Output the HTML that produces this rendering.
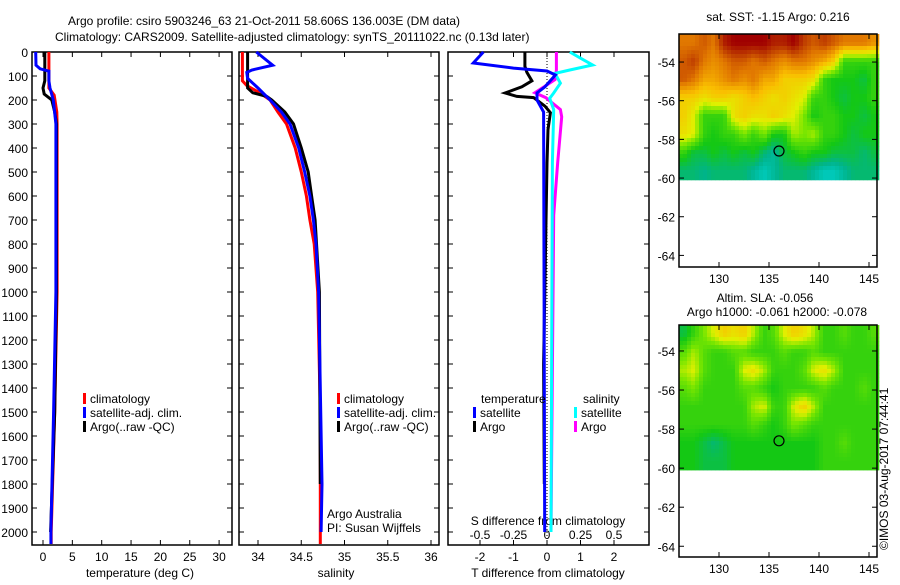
<!DOCTYPE html>
<html><head><meta charset="utf-8"><style>
html,body{margin:0;padding:0;background:#fff}
svg text{font-family:"Liberation Sans",sans-serif;font-size:12px;fill:#000}
</style></head><body>
<svg id="c" width="900" height="580" viewBox="0 0 900 580">
<text x="68" y="25">Argo profile: csiro 5903246_63 21-Oct-2011 58.606S 136.003E (DM data)</text>
<text x="55" y="41">Climatology: CARS2009. Satellite-adjusted climatology: synTS_20111022.nc (0.13d later)</text>
<text x="778" y="21" text-anchor="middle">sat. SST: -1.15 Argo: 0.216</text>
<text x="765" y="302" text-anchor="middle">Altim. SLA: -0.056</text>
<text x="777" y="316" text-anchor="middle">Argo h1000: -0.061 h2000: -0.078</text>
<text transform="translate(888,550) rotate(-90)">©IMOS 03-Aug-2017 07:44:41</text>
<g id="g"></g>
</svg>
<script>
// ---- data ----
const depthTicks=[0,100,200,300,400,500,600,700,800,900,1000,1100,1200,1300,1400,1500,1600,1700,1800,1900,2000];
const tempTicks=[0,5,10,15,20,25,30];
const salTicks=[34,34.5,35,35.5,36];
const tdiffTicks=[-2,-1,0,1,2];
const sdiffTicks=[-0.5,-0.25,0,0.25,0.5];
const sdiffLabels=["-0.5","-0.25","0","0.25","0.5"];
const latTicks=[-54,-56,-58,-60,-62,-64];
const lonTicks=[130,135,140,145];

const tClimD=[0,150,180,250,300,1000,1500,2000,2050];
const tClimV=[1.0,1.0,1.9,2.35,2.4,2.4,2.0,1.4,1.4];
const tSatD=[0,55,70,80,120,150,200,300,1000,1500,2000,2050];
const tSatV=[-1.25,-1.2,-0.5,1.0,1.0,1.2,1.75,2.2,2.2,1.8,1.35,1.35];
const tArgoD=[0,120,150,175,200,250,300,1000,1500,2000];
const tArgoV=[0.3,0.3,0.0,0.2,1.5,2.0,2.3,2.3,2.0,1.3];

const sClimD=[0,120,140,170,200,250,300,400,500,600,700,800,1000,1500,2050];
const sClimV=[33.82,33.82,33.87,34.02,34.14,34.23,34.33,34.43,34.5,34.56,34.6,34.65,34.69,34.72,34.72];
const sSatD=[0,55,75,85,110,150,200,250,300,400,500,600,700,800,1000,1800,2000];
const sSatV=[33.98,34.17,33.93,33.87,33.88,34.0,34.14,34.27,34.37,34.47,34.54,34.6,34.64,34.67,34.7,34.74,34.73];
const sArgoD=[0,150,170,185,200,250,300,400,500,600,700,1000,1800];
const sArgoV=[33.88,33.88,33.94,34.1,34.16,34.31,34.41,34.5,34.58,34.62,34.66,34.71,34.72];

const dtSatD=[0,46,67,79,96,145,171,200,250,2000];
const dtSatV=[-1.9,-2.2,-1.0,0,0.25,-0.06,-0.3,-0.3,-0.1,-0.07];
const dtArgoD=[0,60,85,120,145,171,185,190,226,253,323,462,1300,1800];
const dtArgoV=[-0.66,-0.66,-0.6,-0.45,-0.75,-1.25,-0.9,-0.4,-0.06,0.1,0.03,0,-0.1,-0.08];
const dsSatD=[0,32,54,75,89,130,171,193,240,460,2000];
const dsSatV=[0.17,0.27,0.34,0.17,0.06,0.1,0.05,0.02,0.05,0.04,0.03];
const dsArgoD=[0,75,115,170,190,240,270,460,680,2000];
const dsArgoV=[0.07,0.07,0.06,-0.09,-0.01,0.1,0.11,0.08,0.05,0.03];

const mapLons=[126,127,128,129,130,131,132,133,134,135,136,137,138,139,140,141,142,143,144,145];
const sstGrid=[
[0.8,0.8,0.85,0.8,0.95,1,1,1,1,0.95,0.95,1,0.9,0.85,0.9,0.85,0.8,0.8,0.8,0.75],
[0.85,0.9,0.8,0.75,0.8,0.85,0.85,0.8,0.85,0.8,0.75,0.8,0.8,0.75,0.7,0.6,0.3,0.3,0.3,0.3],
[0.85,0.8,0.7,0.7,0.75,0.8,0.75,0.8,0.7,0.7,0.6,0.6,0.6,0.55,0.3,0.25,0.25,0.25,0.2,0.3],
[0.6,0.6,0.55,0.6,0.6,0.55,0.6,0.65,0.6,0.55,0.6,0.55,0.5,0.3,0.3,0.25,0.2,0.25,0.25,0.3],
[0.6,0.5,0.3,0.3,0.3,0.55,0.6,0.55,0.55,0.6,0.55,0.5,0.4,0.25,0.3,0.3,0.25,0.25,0.2,0.25],
[0.55,0.5,0.3,0.25,0.3,0.3,0.4,0.3,0.4,0.25,0.25,0.45,0.4,0.45,0.3,0.3,0.25,0.2,0.25,0.25],
[0.3,0.2,0.2,0.25,0.2,0.25,0.2,0.25,0.15,0.1,0.2,0.25,0.3,0.25,0.25,0.2,0.2,0.2,0.15,0.2],
[0.15,0.15,0.12,0.15,0.15,0.15,0.15,0.1,0.05,0.1,0.15,0.15,0.15,0.1,0.05,0.05,0.1,0.15,0.15,0.15]];
const slaGrid=[
[0.2,0.3,0.4,0.5,0.6,0.55,0.6,0.45,0.3,0.35,0.5,0.6,0.55,0.45,0.3,0.3,0.35,0.3,0.3,0.35],
[0.35,0.45,0.35,0.3,0.3,0.35,0.35,0.3,0.3,0.3,0.35,0.3,0.3,0.35,0.3,0.3,0.3,0.3,0.3,0.3],
[0.45,0.5,0.35,0.3,0.3,0.3,0.5,0.55,0.45,0.3,0.3,0.3,0.35,0.5,0.55,0.45,0.3,0.3,0.3,0.3],
[0.35,0.4,0.3,0.3,0.3,0.3,0.35,0.35,0.3,0.25,0.3,0.3,0.3,0.3,0.35,0.3,0.3,0.3,0.35,0.3],
[0.3,0.3,0.3,0.3,0.3,0.3,0.3,0.45,0.5,0.3,0.3,0.5,0.6,0.45,0.3,0.3,0.3,0.3,0.3,0.3],
[0.3,0.3,0.3,0.3,0.3,0.3,0.3,0.35,0.3,0.25,0.3,0.4,0.35,0.3,0.3,0.3,0.3,0.3,0.3,0.3],
[0.25,0.25,0.2,0.15,0.2,0.25,0.25,0.25,0.25,0.25,0.25,0.25,0.25,0.25,0.3,0.3,0.35,0.3,0.3,0.3],
[0.25,0.25,0.2,0.2,0.2,0.25,0.25,0.25,0.25,0.25,0.25,0.25,0.25,0.25,0.3,0.3,0.3,0.3,0.3,0.3]];
const argoLon=136.0, argoLat=-58.6;

// ---- helpers ----
const NS="http://www.w3.org/2000/svg";
const G=document.getElementById('g');
function el(tag,at,parent){const e=document.createElementNS(NS,tag);for(const k in at)e.setAttribute(k,at[k]);(parent||G).appendChild(e);return e;}
function txt(x,y,s,anchor,name){const t=el('text',{x:x,y:y,'text-anchor':anchor||'start'});t.textContent=s;


return t;}
const yD=d=>52+d*0.24;
const xT=v=>43+v*5.87;
const xS=v=>258+(v-34)*86.5;
const xDT=v=>547+v*33.5;
const xDS=v=>547+v*134;

function panel(x0,x1,name){
 const r=el('rect',{x:x0,y:52,width:x1-x0,height:493,fill:'none',stroke:'#000','stroke-width':1.5});
 
 
 depthTicks.forEach(d=>{el('line',{x1:x0,x2:x0+5,y1:yD(d),y2:yD(d),stroke:'#000'});el('line',{x1:x1-5,x2:x1,y1:yD(d),y2:yD(d),stroke:'#000'});});
}
function xticks(vals,fx,labels,name){
 vals.forEach((v,i)=>{const x=fx(v);el('line',{x1:x,x2:x,y1:545,y2:540,stroke:'#000'});el('line',{x1:x,x2:x,y1:52,y2:57,stroke:'#000'});
 txt(x,561,labels?labels[i]:String(v),'middle',name);});
}
function line(D,V,fx,color,name){
 const pts=D.map((d,i)=>fx(V[i]).toFixed(1)+','+yD(d).toFixed(1)).join(' ');
 const p=el('polyline',{points:pts,fill:'none',stroke:color,'stroke-width':3,'stroke-linejoin':'miter'});
 
 
}
function legend(x,y,color,label,name){
 el('rect',{x:x,y:y-10,width:3,height:11,fill:color});
 txt(x+7,y,label,'start',name);
}

// panel 1
panel(32,232,'temperature-panel');
depthTicks.forEach(d=>txt(28,yD(d)+5,String(d),'end','depth-tick-label'));
xticks(tempTicks,xT,null,'temperature-tick-label');
txt(140,577,'temperature (deg C)','middle','temperature-axis-title');
line(tClimD,tClimV,xT,'#f00','temp-climatology-line');
line(tArgoD,tArgoV,xT,'#000','temp-argo-line');
line(tSatD,tSatV,xT,'#00f','temp-satellite-line');
legend(83,403,'#f00','climatology','legend-climatology');
legend(83,417,'#00f','satellite-adj. clim.','legend-satellite');
legend(83,431,'#000','Argo(..raw -QC)','legend-argo');

// panel 2
panel(239,439,'salinity-panel');
xticks(salTicks,xS,null,'salinity-tick-label');
txt(336,577,'salinity','middle','salinity-axis-title');
line(sClimD,sClimV,xS,'#f00','sal-climatology-line');
line(sArgoD,sArgoV,xS,'#000','sal-argo-line');
line(sSatD,sSatV,xS,'#00f','sal-satellite-line');
legend(337,403,'#f00','climatology','legend-climatology');
legend(337,417,'#00f','satellite-adj. clim.','legend-satellite');
legend(337,431,'#000','Argo(..raw -QC)','legend-argo');
txt(327,518,'Argo Australia','start','institution-label');
txt(327,532,'PI: Susan Wijffels','start','pi-label');

// panel 3
panel(448,649,'difference-panel');
el('line',{x1:547,x2:547,y1:52,y2:545,stroke:'#000','stroke-dasharray':'1,2'});
xticks(tdiffTicks,xDT,null,'tdiff-tick-label');
sdiffTicks.forEach((v,i)=>txt(xDS(v),539,sdiffLabels[i],'middle','sdiff-tick-label'));
txt(548,525,'S difference from climatology','middle','sdiff-axis-title');
txt(548,577,'T difference from climatology','middle','tdiff-axis-title');
line(dsArgoD,dsArgoV,xDS,'#f0f','sdiff-argo-line');
line(dsSatD,dsSatV,xDS,'#0ff','sdiff-satellite-line');
line(dtArgoD,dtArgoV,xDT,'#000','tdiff-argo-line');
line(dtSatD,dtSatV,xDT,'#00f','tdiff-satellite-line');
txt(481,403,'temperature','start','legend-temperature-header');
txt(583,403,'salinity','start','legend-salinity-header');
legend(473,417,'#00f','satellite','legend-t-satellite');
legend(473,431,'#000','Argo','legend-t-argo');
legend(574,417,'#0ff','satellite','legend-s-satellite');
legend(574,431,'#f0f','Argo','legend-s-argo');

// colormap
const cs=[[0,[0,215,215]],[0.12,[0,180,140]],[0.25,[20,200,20]],[0.4,[120,230,0]],[0.5,[225,240,0]],[0.65,[250,190,0]],[0.8,[225,120,0]],[0.9,[190,60,0]],[1,[160,0,0]]];
function cmap(v){for(let i=1;i<cs.length;i++){if(v<=cs[i][0]){const a=cs[i-1],b=cs[i],t=(v-a[0])/(b[0]-a[0]);return 'rgb('+a[1].map((c,k)=>Math.round(c+(b[1][k]-c)*t)).join(',')+')';}}return 'rgb(160,0,0)';}

function sample(grid,fc,fr){ // bilinear interpolation in grid index space
 const R=grid.length,C=grid[0].length;
 fc=Math.max(0,Math.min(C-1,fc));fr=Math.max(0,Math.min(R-1,fr));
 const c0=Math.floor(fc),r0=Math.floor(fr),c1=Math.min(C-1,c0+1),r1=Math.min(R-1,r0+1),tc=fc-c0,tr=fr-r0;
 const a=grid[r0][c0]*(1-tc)+grid[r0][c1]*tc,b=grid[r1][c0]*(1-tc)+grid[r1][c1]*tc;
 return a*(1-tr)+b*tr;
}

function map(top,bottom,latTop,latBot,grid,name){
 const xL=v=>679+(v-126)*10;
 const yL=v=>top+(latTop-v)*((bottom-top)/(latTop-latBot));
 const dataBot=-60.1;
 const R=grid.length,C=grid[0].length;
 const rowH=(latTop-dataBot)/R;
 const x0=xL(mapLons[0]),x1=xL(mapLons[C-1])+10,y0=yL(latTop),y1=yL(dataBot);
 const step=4;
 for(let y=y0;y<y1;y+=step){
  for(let x=x0;x<x1;x+=step){
   const fc=(x+step/2-x0)/10-0.5;
   const lat=latTop-(y+step/2-y0)/(y1-y0)*(latTop-dataBot);
   const fr=(latTop-lat)/rowH-0.5;
   const cell=el('rect',{x:x.toFixed(1),y:y.toFixed(1),width:Math.min(step,x1-x)+0.3,height:(Math.min(step,y1-y)+0.3).toFixed(1),fill:cmap(sample(grid,fc,fr))});
   
   
  }
 }
 const b=el('rect',{x:679,y:top,width:198,height:bottom-top,fill:'none',stroke:'#000','stroke-width':1.5});
 
 
 latTicks.forEach(la=>{const y=yL(la);el('line',{x1:679,x2:684,y1:y,y2:y,stroke:'#000'});el('line',{x1:872,x2:877,y1:y,y2:y,stroke:'#000'});txt(675,y+5,String(la),'end','lat-tick-label');});
 lonTicks.forEach(lo=>{const x=xL(lo);el('line',{x1:x,x2:x,y1:bottom,y2:bottom-5,stroke:'#000'});el('line',{x1:x,x2:x,y1:top,y2:top+5,stroke:'#000'});txt(x,bottom+16,String(lo),'middle','lon-tick-label');});
 const m=el('circle',{cx:xL(argoLon),cy:yL(argoLat),r:5,fill:'none',stroke:'#000','stroke-width':1.2});
 
 
}
map(34,267,-52.55,-64.6,sstGrid,'sst-map');
map(325,557,-52.67,-64.55,slaGrid,'sla-map');
</script>
</body></html>
